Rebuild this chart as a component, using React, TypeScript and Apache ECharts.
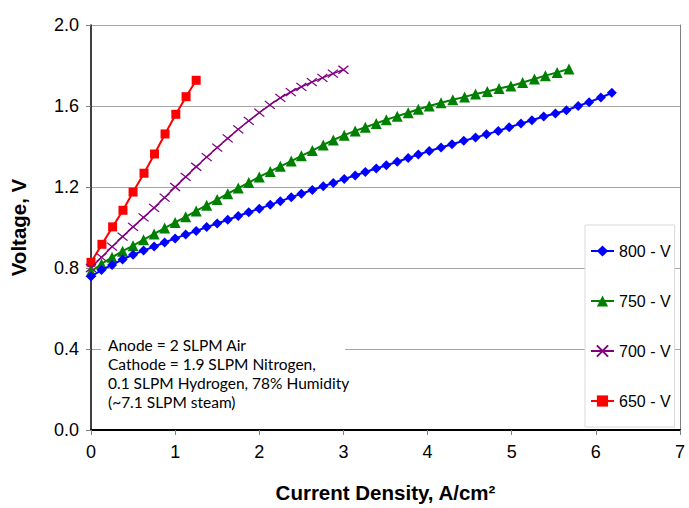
import React, { useEffect, useRef } from "react";
import * as echarts from "echarts";

const seriesNames = ["800 - V", "750 - V", "700 - V", "650 - V"];
const seriesColors = ["#0000FF", "#008000", "#800080", "#FF0000"];

const x800 = [0, 0.125, 0.25, 0.375, 0.5, 0.625, 0.75, 0.875, 1.0, 1.125, 1.25, 1.375, 1.5, 1.625, 1.75, 1.875, 2.0,
  2.13, 2.25, 2.38, 2.5, 2.63, 2.76, 2.88, 3.01, 3.14, 3.26, 3.39, 3.51, 3.64, 3.77, 3.89, 4.02,
  4.16, 4.29, 4.43, 4.57, 4.7, 4.84, 4.97, 5.11, 5.24, 5.38, 5.52, 5.65, 5.79, 5.92, 6.06, 6.19];
const v800 = [0.758, 0.79, 0.815, 0.842, 0.866, 0.886, 0.906, 0.926, 0.946, 0.965, 0.983, 1.002, 1.02, 1.038, 1.057, 1.075, 1.093,
  1.112, 1.13, 1.149, 1.167, 1.185, 1.204, 1.22, 1.24, 1.257, 1.274, 1.291, 1.307, 1.325, 1.343, 1.36, 1.378,
  1.395, 1.411, 1.428, 1.444, 1.46, 1.477, 1.495, 1.513, 1.53, 1.548, 1.563, 1.579, 1.6, 1.619, 1.642, 1.665];

const x750 = [0, 0.125, 0.25, 0.375, 0.5, 0.625, 0.75, 0.875, 1.0, 1.125, 1.25, 1.375, 1.5, 1.625, 1.75, 1.875, 2.0,
  2.13, 2.25, 2.38, 2.5, 2.63, 2.76, 2.88, 3.01, 3.14, 3.26, 3.39, 3.51, 3.64, 3.77, 3.89, 4.02,
  4.16, 4.3, 4.44, 4.57, 4.71, 4.85, 4.99, 5.13, 5.27, 5.4, 5.54, 5.68];
const v750 = [0.783, 0.82, 0.853, 0.883, 0.91, 0.94, 0.968, 0.997, 1.025, 1.053, 1.082, 1.11, 1.138, 1.167, 1.195, 1.222, 1.25,
  1.277, 1.302, 1.328, 1.354, 1.38, 1.408, 1.432, 1.456, 1.477, 1.495, 1.514, 1.532, 1.55, 1.567, 1.584, 1.6,
  1.616, 1.631, 1.645, 1.659, 1.672, 1.686, 1.699, 1.716, 1.733, 1.75, 1.766, 1.783];

const x700 = [0, 0.125, 0.25, 0.375, 0.5, 0.625, 0.75, 0.875, 1.0, 1.125, 1.25, 1.375, 1.5, 1.625, 1.75, 1.875, 2.0,
  2.125, 2.25, 2.375, 2.5, 2.625, 2.75, 2.875, 3.0];
const v700 = [0.8, 0.853, 0.905, 0.955, 1.003, 1.05, 1.097, 1.148, 1.2, 1.25, 1.3, 1.348, 1.395, 1.44, 1.485, 1.527, 1.567,
  1.605, 1.64, 1.669, 1.695, 1.718, 1.739, 1.76, 1.779];

const x650 = [0, 0.13, 0.257, 0.38, 0.5, 0.63, 0.755, 0.88, 1.008, 1.13, 1.25];
const v650 = [0.828, 0.917, 1.003, 1.085, 1.175, 1.268, 1.363, 1.462, 1.559, 1.646, 1.727];

const xTickLabels = ["0", "1", "2", "3", "4", "5", "6", "7"];
const yTickLabels = ["0.0", "0.4", "0.8", "1.2", "1.6", "2.0"];

const noteLines = [
  "Anode = 2 SLPM Air",
  "Cathode = 1.9 SLPM Nitrogen,",
  "0.1 SLPM Hydrogen, 78% Humidity",
  "(~7.1 SLPM steam)",
];

const zip = (xs: number[], ys: number[]) => xs.map((x, i) => [x, ys[i]]);

const FONT = "'Liberation Sans', Arial, sans-serif";

export default function App() {
  const ref = useRef<HTMLDivElement>(null);
  useEffect(() => {
    if (!ref.current) return;
    const chart = echarts.init(ref.current, null, { renderer: "svg" });
    const xs = [x800, x750, x700, x650];
    const vs = [v800, v750, v700, v650];
    const symbols = ["diamond", "triangle", "path://M0,0L10,8M10,0L0,8", "rect"];
    const sizes = [10, 11, [10, 8], 9];
    const widths = [2, 2, 1.5, 2];
    chart.setOption({
      animation: false,
      backgroundColor: "#ffffff",
      grid: { left: 90, right: 9, top: 25, bottom: 75, containLabel: false },
      xAxis: {
        type: "value",
        min: 0,
        max: 7,
        interval: 1,
        name: "Current Density, A/cm²",
        nameLocation: "middle",
        nameGap: 52,
        nameTextStyle: { fontFamily: FONT, fontWeight: "bold", fontSize: 20.5, color: "#000" },
        axisLine: { show: true, onZero: false, lineStyle: { color: "#000", width: 2 } },
        axisTick: { show: true, length: 5, lineStyle: { color: "#808080" } },
        axisLabel: {
          fontFamily: FONT,
          fontSize: 18,
          color: "#000",
          margin: 13,
          formatter: (v: number) => xTickLabels[Math.round(v)] ?? "",
        },
        splitLine: { show: false },
      },
      yAxis: [
        {
          type: "value",
          min: 0,
          max: 2.0,
          interval: 0.4,
          name: "Voltage, V",
          nameLocation: "middle",
          nameGap: 62,
          nameTextStyle: { fontFamily: FONT, fontWeight: "bold", fontSize: 20.5, color: "#000" },
          axisLine: { show: true, lineStyle: { color: "#000", width: 1.5 } },
          axisTick: { show: true, length: 5, lineStyle: { color: "#808080" } },
          axisLabel: {
            fontFamily: FONT,
            fontSize: 18,
            color: "#000",
            margin: 12,
            formatter: (v: number) => yTickLabels[Math.round(v / 0.4)] ?? "",
          },
          splitLine: { show: true, lineStyle: { color: "#a6a6a6", width: 1 } },
        },
        {
          type: "value",
          min: 0,
          max: 2.0,
          interval: 0.4,
          position: "right",
          axisLine: { show: true, lineStyle: { color: "#7f7f7f", width: 1 } },
          axisTick: { show: false },
          axisLabel: { show: false },
          splitLine: { show: false },
        },
      ],
      legend: {
        orient: "vertical",
        left: 585,
        top: 225,
        padding: [18, 4, 18, 5],
        itemGap: 34,
        itemWidth: 23,
        itemHeight: 14,
        backgroundColor: "#fff",
        borderColor: "#d9d9d9",
        borderWidth: 1,
        textStyle: { fontFamily: FONT, fontSize: 16, color: "#000" },
        data: seriesNames,
      },
      graphic: [
        {
          type: "rect",
          shape: { x: 101, y: 328, width: 244, height: 88 },
          style: { fill: "#fff" },
          z: 10,
        },
        {
          type: "text",
          x: 108,
          y: 335.5,
          z: 11,
          style: {
            text: noteLines.join("\n"),
            font: "15.5px Lato, 'Open Sans', sans-serif",
            fill: "#000",
            lineHeight: 19,
          },
        },
      ],
      series: seriesNames.map((name, i) => ({
        name,
        type: "line",
        yAxisIndex: 0,
        data: zip(xs[i], vs[i]),
        symbol: symbols[i],
        symbolSize: sizes[i],
        showSymbol: true,
        lineStyle: { color: seriesColors[i], width: widths[i] },
        itemStyle: {
          color: i === 2 ? "rgba(0,0,0,0)" : seriesColors[i],
          borderColor: seriesColors[i],
          borderWidth: i === 2 ? 1.2 : 0,
        },
        z: 3 + (3 - i),
      })),
    });
    return () => chart.dispose();
  }, []);
  return (
    <div
      ref={ref}
      style={{ position: "fixed", left: 0, top: 0, width: 689, height: 508, background: "#fff" }}
    />
  );
}
